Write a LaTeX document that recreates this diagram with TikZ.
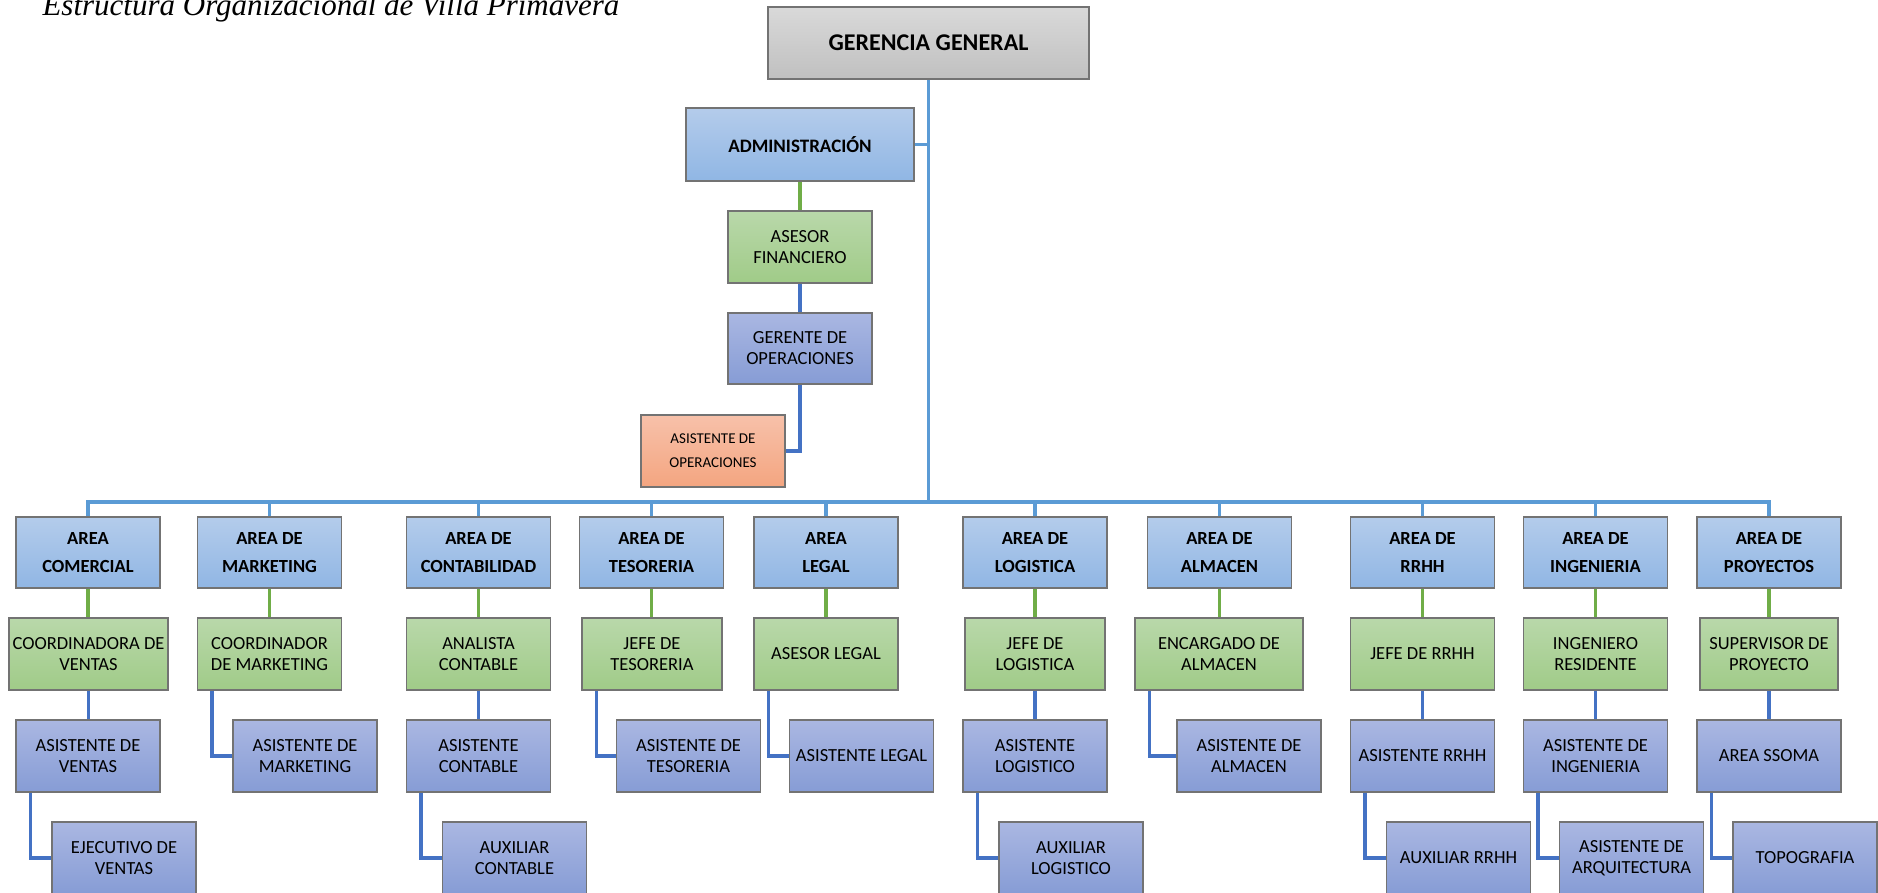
\documentclass[tikz,border=0pt]{standalone}
\usepackage{fontspec}
\setmainfont{Carlito}
\newfontfamily\titulofont{Liberation Serif}
\usepackage{tikz}

\definecolor{grisA}{RGB}{217,217,217}
\definecolor{grisB}{RGB}{192,192,192}
\definecolor{azulA}{RGB}{180,204,235}
\definecolor{azulB}{RGB}{144,182,228}
\definecolor{verdeA}{RGB}{185,216,170}
\definecolor{verdeB}{RGB}{160,203,136}
\definecolor{lilaA}{RGB}{170,183,226}
\definecolor{lilaB}{RGB}{134,156,213}
\definecolor{naranjaA}{RGB}{247,193,170}
\definecolor{naranjaB}{RGB}{244,165,128}
\definecolor{borde}{RGB}{115,115,115}
\definecolor{celeste}{RGB}{91,155,213}
\definecolor{pasto}{RGB}{112,173,71}
\definecolor{marino}{RGB}{68,114,196}

\begin{document}
\begin{tikzpicture}[x=1pt,y=-1pt]
	\tikzstyle{caja} = [draw=borde, line width=1.3pt, align=center, inner sep=1pt, minimum width=144pt, minimum height=72pt, font=\fontsize{18.5}{21}\selectfont];
	\tikzstyle{gris} = [caja, top color=grisA, bottom color=grisB];
	\tikzstyle{azul} = [caja, top color=azulA, bottom color=azulB];
	\tikzstyle{area} = [azul, minimum height=71pt, font=\bfseries\fontsize{18.5}{27.7}\selectfont];
	\tikzstyle{verde} = [caja, top color=verdeA, bottom color=verdeB];
	\tikzstyle{lila} = [caja, top color=lilaA, bottom color=lilaB];
	\tikzstyle{naranja} = [caja, top color=naranjaA, bottom color=naranjaB, font=\fontsize{15}{24}\selectfont];
	\tikzstyle{linea1} = [draw=celeste, line width=3.6pt];
	\tikzstyle{linea2} = [draw=pasto, line width=3.4pt];
	\tikzstyle{linea3} = [draw=marino, line width=3.4pt];
	
	\useasboundingbox (0,0) rectangle (1878,892);
	\clip (0,0) rectangle (1878,892);
	
	\node[anchor=base west, font=\titulofont\itshape\fontsize{31}{36}\selectfont] (titulo) at (39,15) {Estructura Organizacional de Villa Primavera};
	
	\node[gris, minimum width=321pt, font=\bfseries\fontsize{24}{28}\selectfont] (gg) at (928.5,43) {GERENCIA GENERAL};
	\node[azul, minimum width=228pt, minimum height=73pt, font=\bfseries\fontsize{19}{23}\selectfont] (adm) at (800,144.5) {ADMINISTRACIÓN};
	\node[verde] (afi) at (800,247) {ASESOR\\FINANCIERO};
	\node[lila, minimum height=71pt] (gop) at (800,348.5) {GERENTE DE\\OPERACIONES};
	\node[naranja] (aop) at (713,451) {ASISTENTE DE\\OPERACIONES};
	\coordinate (bus) at (928.5,502);
	
	% areas
	\node[area] (com) at (88,552.5) {AREA\\COMERCIAL};
	\node[area] (mkt) at (269.5,552.5) {AREA DE\\MARKETING};
	\node[area] (con) at (478.5,552.5) {AREA DE\\CONTABILIDAD};
	\node[area] (tes) at (651.5,552.5) {AREA DE\\TESORERIA};
	\node[area] (leg) at (826,552.5) {AREA\\LEGAL};
	\node[area] (log) at (1035,552.5) {AREA DE\\LOGISTICA};
	\node[area] (alm) at (1219.5,552.5) {AREA DE\\ALMACEN};
	\node[area] (rh) at (1422.5,552.5) {AREA DE\\RRHH};
	\node[area] (ing) at (1595.5,552.5) {AREA DE\\INGENIERIA};
	\node[area] (pro) at (1769,552.5) {AREA DE\\PROYECTOS};
	
	\node[verde, minimum width=159pt] (cve) at (88.5,654) {COORDINADORA DE\\VENTAS};
	\node[verde] (cmk) at (269.5,654) {COORDINADOR\\DE MARKETING};
	\node[verde] (acn) at (478.5,654) {ANALISTA\\CONTABLE};
	\node[verde, minimum width=140pt] (jts) at (652,654) {JEFE DE\\TESORERIA};
	\node[verde] (alg) at (826,654) {ASESOR LEGAL};
	\node[verde, minimum width=140pt] (jlg) at (1035,654) {JEFE DE\\LOGISTICA};
	\node[verde, minimum width=168pt] (eal) at (1219,654) {ENCARGADO DE\\ALMACEN};
	\node[verde] (jrh) at (1422.5,654) {JEFE DE RRHH};
	\node[verde] (ire) at (1595.5,654) {INGENIERO\\RESIDENTE};
	\node[verde, minimum width=138pt] (spr) at (1769,654) {SUPERVISOR DE\\PROYECTO};
	
	\node[lila] (ave) at (88,756) {ASISTENTE DE\\VENTAS};
	\node[lila] (amk) at (305,756) {ASISTENTE DE\\MARKETING};
	\node[lila] (aco) at (478.5,756) {ASISTENTE\\CONTABLE};
	\node[lila] (ats) at (688.5,756) {ASISTENTE DE\\TESORERIA};
	\node[lila] (asl) at (861.5,756) {ASISTENTE LEGAL};
	\node[lila] (alo) at (1035,756) {ASISTENTE\\LOGISTICO};
	\node[lila] (aal) at (1249,756) {ASISTENTE DE\\ALMACEN};
	\node[lila] (arh) at (1422.5,756) {ASISTENTE RRHH};
	\node[lila] (ain) at (1595.5,756) {ASISTENTE DE\\INGENIERIA};
	\node[lila] (sso) at (1769,756) {AREA SSOMA};
	
	\node[lila] (eve) at (124,858) {EJECUTIVO DE\\VENTAS};
	\node[lila] (axc) at (514.5,858) {AUXILIAR\\CONTABLE};
	\node[lila] (axl) at (1071,858) {AUXILIAR\\LOGISTICO};
	\node[lila] (axr) at (1458.5,858) {AUXILIAR RRHH};
	\node[lila] (aar) at (1631.5,858) {ASISTENTE DE\\ARQUITECTURA};
	\node[lila] (topo) at (1805,858) {TOPOGRAFIA};
	
	% lineas
	\draw[linea1] (gg.south) -- (bus);
	\draw[linea1] (adm.east) -- (adm.east -| bus);
	\draw[linea1] (com.north) |- (bus) -| (pro.north);
	\foreach \a in {mkt,con,tes,leg,log,alm,rh,ing}
		\draw[linea1] (\a.north) -- (\a.north |- bus);
	
	\foreach \a/\b in {adm/afi,com/cve,mkt/cmk,con/acn,tes/jts,leg/alg,log/jlg,alm/eal,rh/jrh,ing/ire,pro/spr}
		\draw[linea2] (\a.south) -- (\a.south |- \b.north);
	
	\foreach \a/\b in {afi/gop,cve/ave,acn/aco,jlg/alo,jrh/arh,ire/ain,spr/sso}
		\draw[linea3] (\a.south) -- (\a.south |- \b.north);
	\draw[linea3] (gop.south) |- (aop.east);
	\foreach \a/\b in {cmk/amk,jts/ats,alg/asl,eal/aal,ave/eve,aco/axc,alo/axl,arh/axr,ain/aar,sso/topo}
		\draw[linea3] ([xshift=15pt]\a.south west) |- (\b.west);
\end{tikzpicture}
\end{document}
